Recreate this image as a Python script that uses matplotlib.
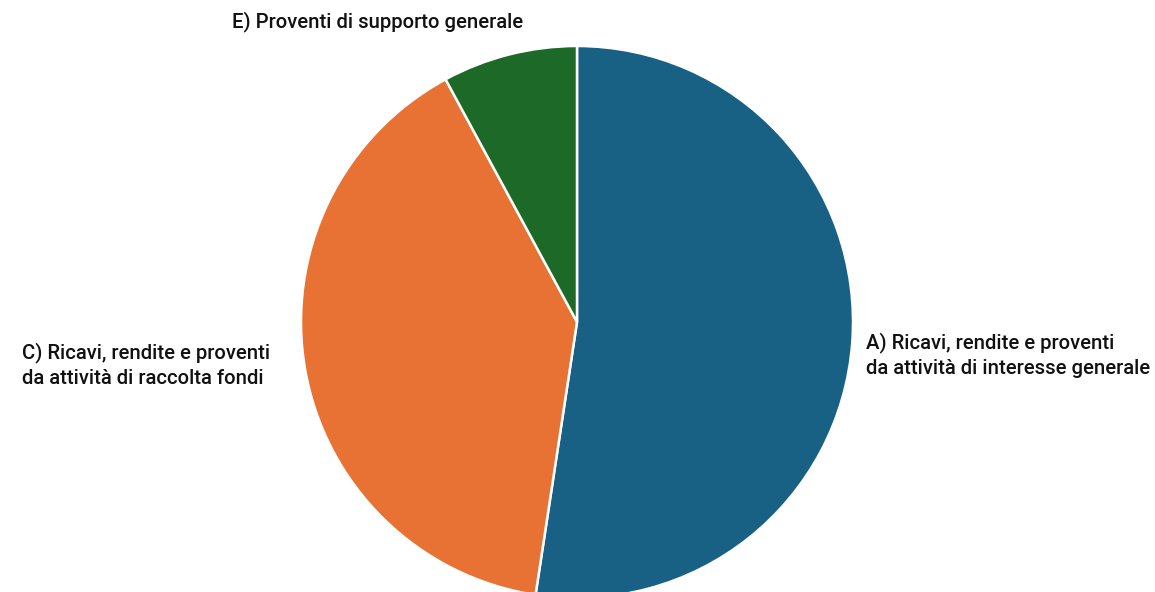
import matplotlib.pyplot as plt

labels = [
    'A) Ricavi, rendite e proventi\nda attività di interesse generale',
    'C) Ricavi, rendite e proventi\nda attività di raccolta fondi',
    'E) Proventi di supporto generale',
]
shares = [52.4, 39.7, 7.9]
colors = ['#186185', '#e87234', '#1d6a28']

W, H = 1155, 592
fig = plt.figure(figsize=(W / 100, H / 100), dpi=100)
ax = fig.add_axes([0, 0, 1, 1])

ax.pie(shares, colors=colors, startangle=90, counterclock=False,
       center=(577, H - 322), radius=276,
       wedgeprops=dict(edgecolor='white', linewidth=1.8))

ax.set_xlim(0, W)
ax.set_ylim(0, H)
ax.set_aspect('equal')
ax.axis('off')

font = dict(family=['Roboto', 'DejaVu Sans'], fontsize=14.6, fontweight='medium',
            color='#111111', linespacing=1.38)
ax.text(866, H - 355, labels[0], ha='left', va='center', **font)
ax.text(22, H - 365, labels[1], ha='left', va='center', **font)
ax.text(232, H - 22, labels[2], ha='left', va='center', **font)

fig.savefig('out.png', dpi=100)
